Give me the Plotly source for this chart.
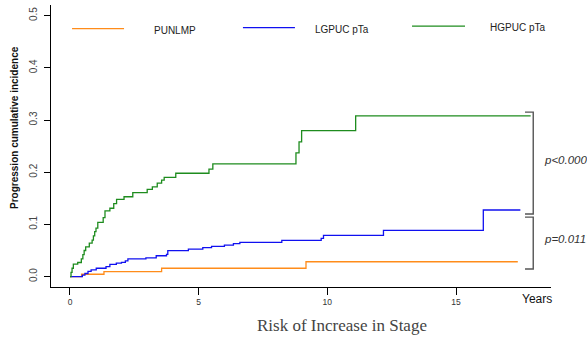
import plotly.graph_objects as go

# ---- data ----
punlmp_t = [0, 0.45, 1.32, 3.56, 9.17, 17.4]
punlmp_v = [0, 0.0045, 0.0094, 0.016, 0.0285, 0.0285]

lgpuc_t = [0, 0.48, 0.58, 0.70, 0.82, 1.02, 1.40, 1.55, 1.80, 2.00, 2.15, 2.25, 2.95, 3.35,
           3.75, 3.80, 4.60, 5.16, 5.50, 6.00, 6.35, 6.60, 8.23, 9.76, 9.85, 12.18, 16.06, 17.5]
lgpuc_v = [0, 0.003, 0.006, 0.010, 0.013, 0.016, 0.019, 0.0236, 0.026, 0.0274, 0.030, 0.034, 0.036, 0.040,
           0.0427, 0.0496, 0.0528, 0.0554, 0.058, 0.0605, 0.063, 0.0657, 0.0695, 0.0734, 0.079, 0.0887, 0.1276, 0.1276]

hgpuc_t = [0, 0.04, 0.08, 0.13, 0.30, 0.44, 0.50, 0.55, 0.61, 0.75, 0.86, 0.91, 0.96, 1.01, 1.08,
           1.29, 1.36, 1.55, 1.70, 1.81, 2.10, 2.44, 3.00, 3.20, 3.39, 3.56, 3.66, 4.11, 5.40, 5.55,
           8.78, 8.90, 9.00, 11.10, 17.9]
hgpuc_v = [0, 0.008, 0.016, 0.024, 0.027, 0.034, 0.042, 0.050, 0.057, 0.064, 0.070, 0.078, 0.086, 0.093, 0.104,
           0.113, 0.126, 0.131, 0.140, 0.148, 0.153, 0.161, 0.167, 0.172, 0.179, 0.185, 0.190, 0.198, 0.206, 0.216,
           0.237, 0.258, 0.2795, 0.308, 0.308]

series_names = ["PUNLMP", "LGPUC pTa", "HGPUC pTa"]
series_colors = ["#FF8C1A", "#1010F0", "#1E8C1E"]
x_ticks = [0, 5, 10, 15]
y_ticks = [0.0, 0.1, 0.2, 0.3, 0.4, 0.5]
p_labels = ["p<0.0001", "p=0.0117"]

fig = go.Figure()
for t, v, name, col in zip([punlmp_t, lgpuc_t, hgpuc_t], [punlmp_v, lgpuc_v, hgpuc_v],
                           series_names, series_colors):
    fig.add_trace(go.Scatter(x=t, y=v, mode="lines", line=dict(color=col, width=1.3, shape="hv"),
                             name=name, showlegend=False))

# manual legend (line sample + label)
leg_x = [(0.08, 2.10, 3.19), (6.72, 8.74, 9.44), (13.29, 15.35, 16.25)]
leg_y = [0.475, 0.477, 0.480]
for (x0, x1, xt), yy, name, col in zip(leg_x, leg_y, series_names, series_colors):
    fig.add_shape(type="line", x0=x0, x1=x1, y0=yy, y1=yy, xref="x", yref="y",
                  line=dict(color=col, width=1.2))
    fig.add_annotation(x=xt, y=yy - 0.003, text=name, showarrow=False, xanchor="left", yanchor="middle",
                       font=dict(family="Liberation Sans, Arial", size=10, color="#222"))

# brackets
br_col = "#555"
for y0, y1 in [(0.315, 0.12), (0.114, 0.0146)]:
    fig.add_shape(type="path", path=f"M 17.68 {y0} L 18.0 {y0} L 18.0 {y1} L 17.68 {y1}",
                  xref="x", yref="y", line=dict(color=br_col, width=1.4))
for yy, lab in zip([0.223, 0.072], p_labels):
    fig.add_annotation(x=18.33, y=yy, text=f"<i>{lab}</i>", showarrow=False, xanchor="left",
                       yanchor="middle", font=dict(family="Liberation Sans, Arial", size=11.5, color="#333"))

# Years label
fig.add_annotation(x=1.005, y=-12 / 282, xref="paper", yref="paper", text="Years", showarrow=False,
                   xanchor="right", yanchor="middle",
                   font=dict(family="Liberation Sans, Arial", size=12, color="#111"))

# axis titles
fig.add_annotation(x=-37 / 500, y=(287 - 128) / 282, xref="paper", yref="paper",
                   text="<b>Progression cumulative incidence</b>", textangle=-90, showarrow=False,
                   xanchor="center", yanchor="middle",
                   font=dict(family="Liberation Sans, Arial", size=10, color="#111"))
fig.add_annotation(x=(342 - 51) / 500, y=-(325 - 287) / 282, xref="paper", yref="paper",
                   text="Risk of Increase in Stage", showarrow=False, xanchor="center", yanchor="middle",
                   font=dict(family="Liberation Serif, Times New Roman", size=17, color="#444"))

fig.update_xaxes(range=[-0.738, 18.69], tickvals=x_ticks, ticktext=[str(v) for v in x_ticks],
                 showline=True, linecolor="black", linewidth=1, ticks="outside", ticklen=7,
                 tickcolor="black", showgrid=False, zeroline=False,
                 tickfont=dict(family="Liberation Sans, Arial", size=8.5, color="#333"))
fig.update_yaxes(range=[-0.0199, 0.5203], tickvals=y_ticks, ticktext=[f"{v:.1f}" for v in y_ticks],
                 tickangle=-90, showline=True, linecolor="black", linewidth=1, ticks="outside", ticklen=6,
                 tickcolor="black", showgrid=False, zeroline=False, ticklabelstandoff=3,
                 tickfont=dict(family="Liberation Sans, Arial", size=10, color="#444"))

fig.update_layout(width=587, height=339, margin=dict(l=51, r=36, t=5, b=52),
                  plot_bgcolor="white", paper_bgcolor="white", showlegend=False)

fig.write_html("out.html", config={"displayModeBar": False},
               post_script="document.body.style.margin='0';document.body.style.overflow='hidden';")
